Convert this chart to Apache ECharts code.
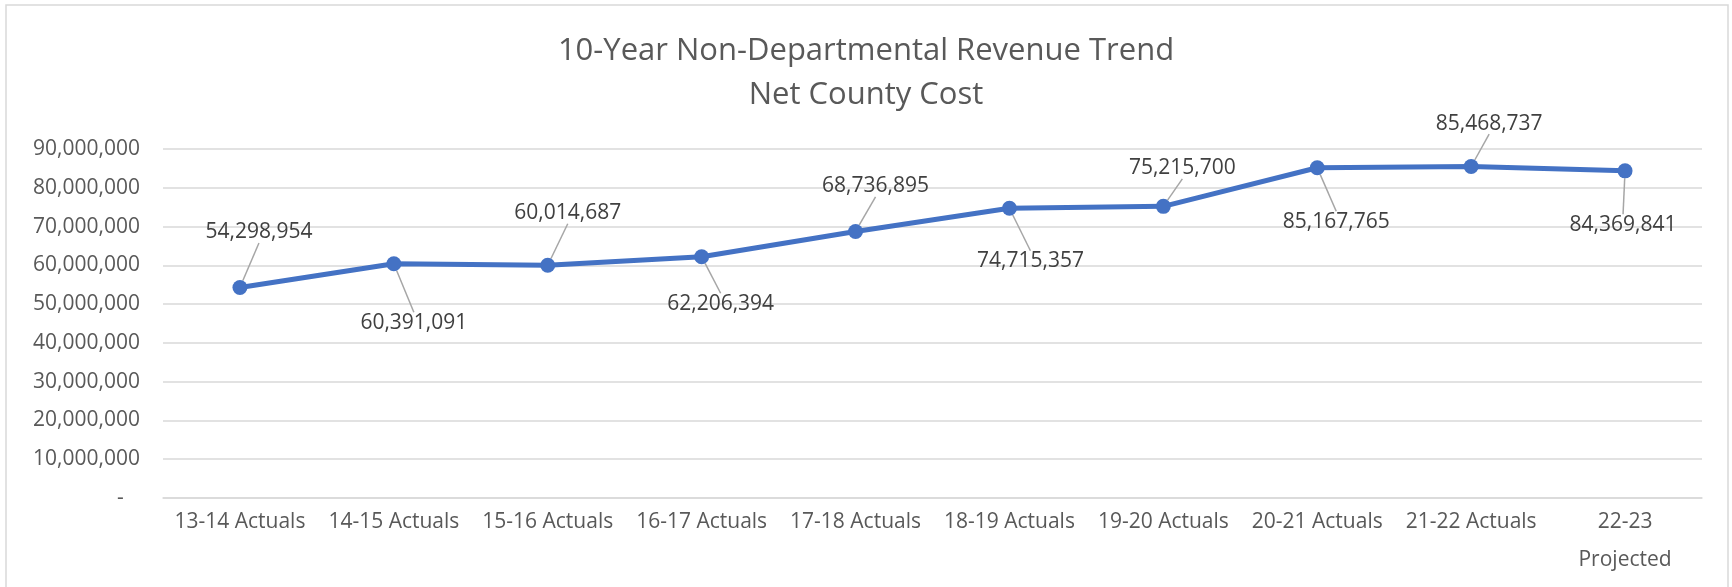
<!DOCTYPE html>
<html>
<head>
<meta charset="utf-8">
<script src="https://cdn.jsdelivr.net/npm/echarts@6/dist/echarts.min.js"></script>
<style>
html, body { margin: 0; padding: 0; background: #fff; }
#trendChart { width: 1732px; height: 587px; }
</style>
</head>
<body>
<div id="trendChart"></div>
<script>
// fiscal years on the x axis
var years = ['13-14 Actuals', '14-15 Actuals', '15-16 Actuals', '16-17 Actuals', '17-18 Actuals',
	'18-19 Actuals', '19-20 Actuals', '20-21 Actuals', '21-22 Actuals', '22-23\nProjected'];
// net county cost per year
var netCost = [54298954, 60391091, 60014687, 62206394, 68736895,
	74715357, 75215700, 85167765, 85468737, 84369841];
// y axis ticks
var yMin = 0;
var yMax = 90000000;
var yStep = 10000000;
// where each data label sits relative to its point (px)
var labelShift = [[19, -55], [20, 59], [20, -52], [19, 47], [20, -45],
	[21, 53], [19, -38], [19, 54], [18, -43], [-2, 54]];

var fontName = '"Open Sans", sans-serif';
var trendChart = echarts.init(document.getElementById('trendChart'));

var option = {
	backgroundColor : '#ffffff',
	animation : false,
	title : {
		text : '10-Year Non-Departmental Revenue Trend\nNet County Cost',
		left : 'center',
		top : 24,
		textStyle : {
			color : '#595959',
			fontFamily : fontName,
			fontWeight : 'normal',
			fontSize : 31,
			lineHeight : 44
		}
	},
	graphic : [ {
		type : 'rect',
		shape : { x : 6, y : 5, width : 1722, height : 600 },
		style : { fill : 'none', stroke : '#d9d9d9', lineWidth : 1.5 },
		silent : true
	} ],
	grid : {
		left : 163,
		right : 30,
		top : 149,
		bottom : 89
	},
	xAxis : {
		type : 'category',
		data : years,
		boundaryGap : true,
		axisLine : { show : true, lineStyle : { color : '#d9d9d9', width : 1.5 } },
		axisTick : { show : false },
		axisLabel : {
			color : '#595959',
			fontFamily : fontName,
			fontSize : 21,
			lineHeight : 38,
			margin : 5,
			interval : 0,
			align : 'center'
		}
	},
	yAxis : {
		type : 'value',
		min : yMin,
		max : yMax,
		interval : yStep,
		axisLine : { show : false },
		axisTick : { show : false },
		splitLine : { lineStyle : { color : '#d9d9d9', width : 1.5 } },
		axisLabel : {
			color : '#595959',
			fontFamily : fontName,
			fontSize : 21,
			margin : 23,
			formatter : function(v) {
				return v === 0 ? '-   ' : v.toLocaleString('en-US');
			}
		}
	},
	series : [ {
		name : 'Net County Cost',
		type : 'line',
		data : netCost,
		symbol : 'circle',
		symbolSize : 15,
		itemStyle : { color : '#4472c4' },
		lineStyle : { color : '#4472c4', width : 5 },
		label : {
			show : true,
			position : 'inside',
			color : '#404040',
			fontFamily : fontName,
			fontSize : 21,
			formatter : function(p) {
				return p.value.toLocaleString('en-US');
			}
		},
		labelLine : {
			show : true,
			lineStyle : { color : '#a6a6a6', width : 1.5 }
		},
		labelLayout : function(p) {
			var s = labelShift[p.dataIndex];
			return { dx : s[0], dy : s[1] };
		}
	} ]
};
trendChart.setOption(option);
</script>
</body>
</html>
